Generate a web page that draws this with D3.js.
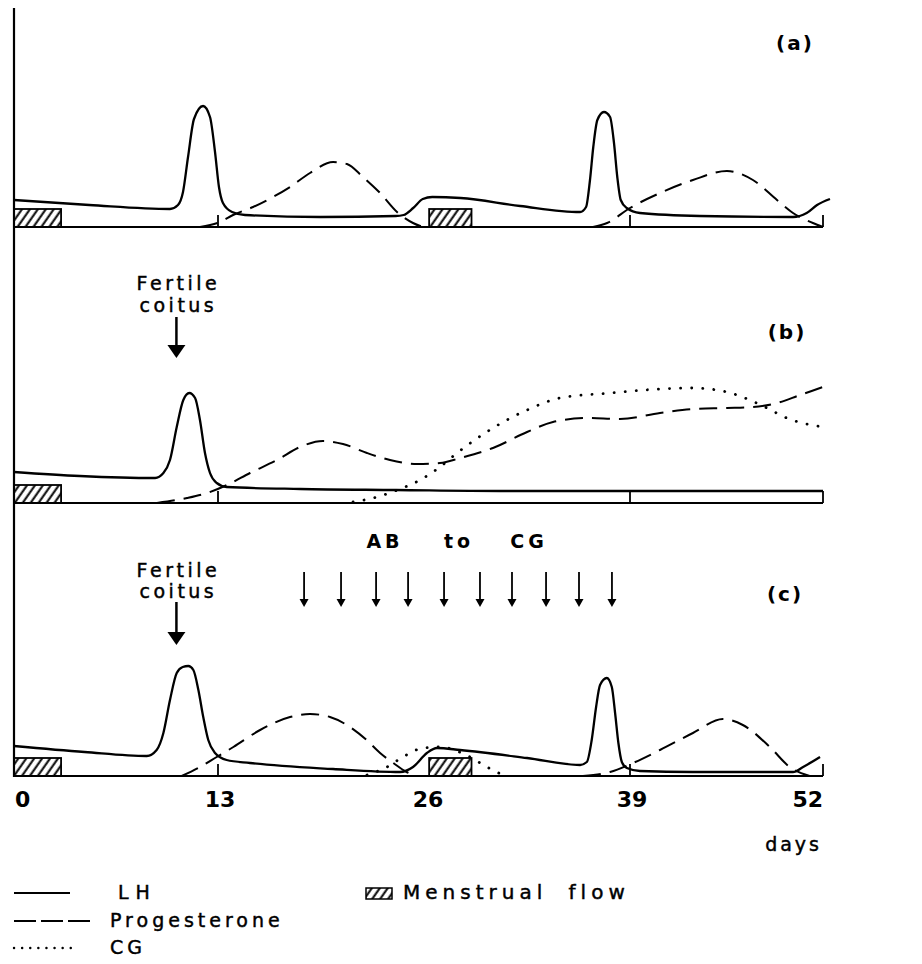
<!DOCTYPE html>
<html>
<head>
<meta charset="utf-8">
<script src="https://cdn.jsdelivr.net/npm/d3@7"></script>
<style>
  body { margin: 0; background: #fff; }
  text { font-family: "DejaVu Sans", sans-serif; fill: #000; }
  text.thick { stroke: #000; stroke-width: 0.45px; }
</style>
</head>
<body>
<div id="container"></div>
<script>
/* CONSTANTS AND GLOBALS */
const width = 922,
  height = 964,
  axisLeft = 14,
  axisTop = 8;

// baseline (y pixel) of each of the three panels
const baselines = [227, 503, 776];

/* DATA (day, hormone level in arbitrary units) */
const dayTicks = [0, 13, 26, 39, 52];
const minorTicks = [13, 39, 52];
const panelNames = ["(a)", "(b)", "(c)"];

// panel (a): normal cycle
const lhA = [[0, 27], [4.8, 22], [9.94, 18], [10.45, 22], [10.77, 35], [11.09, 70], [11.47, 108], [12.05, 121],
  [12.49, 110], [12.81, 75], [13.06, 40], [13.31, 24], [13.88, 15], [14.69, 12], [19.4, 10], [24.1, 11],
  [24.6, 12], [25.2, 19], [25.8, 28], [26.4, 30], [28.2, 29], [32.0, 21], [35.82, 15], [36.2, 20],
  [36.45, 47], [36.66, 80], [36.92, 107], [37.34, 115], [37.73, 110], [37.98, 84], [38.19, 50], [38.41, 27],
  [38.79, 19], [39.67, 14], [43.71, 11], [49.98, 10], [50.9, 14], [51.6, 22], [52.47, 28]];
const progA1 = [[11.85, 0], [13.13, 5], [13.94, 12], [15.19, 20], [16.44, 30], [17.5, 40], [18.75, 54], [20.19, 65],
  [21.06, 63], [22.06, 50], [23.13, 34], [24.19, 15], [25.19, 4], [25.81, 0]];
const progA2 = [[36.64, 0], [37.54, 4], [39.0, 19], [41.02, 34], [43.24, 47], [45.53, 56], [47.28, 47], [48.9, 27],
  [49.98, 14], [51.32, 4], [52.0, 0]];
const menstA = [[0, 3], [26.2, 28.9]];

// panel (b): fertile coitus, pregnancy
const lhB = [[0, 31], [4.2, 27], [8.99, 25], [9.52, 30], [9.94, 43], [10.37, 76], [10.79, 103], [11.17, 110],
  [11.54, 105], [11.85, 83], [12.17, 50], [12.49, 30], [12.92, 20], [13.54, 16], [18.13, 14], [24.13, 13],
  [30.7, 12], [52, 12]];
const progB = [[9.11, 0], [11.03, 5], [12.3, 10], [13.56, 18], [15.0, 30], [16.69, 43], [18.13, 56], [19.56, 62],
  [20.81, 59], [22.31, 50], [23.75, 43], [25.44, 39], [26.89, 40], [28.17, 45], [30.27, 55], [32.44, 71],
  [34.09, 81], [36.26, 85], [38.36, 84], [41.02, 90], [43.24, 94], [45.53, 95], [47.28, 96], [48.9, 100],
  [50.45, 108], [52.0, 116]];
const cgB = [[21.44, 1], [22.94, 6], [24.38, 14], [25.63, 23], [26.89, 36], [27.98, 50], [30.27, 75], [32.44, 93],
  [34.54, 105], [37.73, 110], [41.02, 114], [43.24, 115], [45.53, 111], [47.07, 103], [48.22, 95],
  [49.56, 85], [52.0, 76]];
const menstB = [[0, 3]];

// panel (c): fertile coitus + antibody to CG
const lhC = [[0, 30], [4.5, 24], [8.46, 20], [9.09, 26], [9.52, 43], [9.94, 76], [10.37, 103], [10.75, 109],
  [11.11, 110], [11.43, 106], [11.75, 86], [12.06, 59], [12.38, 36], [12.81, 23], [13.54, 16], [15.0, 13],
  [20.19, 7], [24.38, 4], [25.19, 9], [26.06, 23], [26.7, 28], [28.17, 26], [32.44, 18], [35.82, 11],
  [36.25, 14], [36.56, 36], [36.84, 69], [37.09, 91], [37.52, 98], [37.84, 89], [38.05, 63], [38.26, 33],
  [38.48, 14], [38.8, 8], [39.67, 5], [43.24, 4], [49.98, 4], [50.66, 9], [51.8, 19]];
const progC1 = [[10.69, 0], [11.85, 9], [12.92, 19], [13.96, 29], [15.63, 46], [17.5, 59], [18.75, 62], [20.0, 59],
  [21.25, 49], [22.29, 36], [23.13, 23], [23.96, 13], [24.79, 4], [25.42, 0]];
const progC2 = [[36.0, 0], [37.73, 4], [39.2, 13], [41.02, 26], [43.24, 43], [45.26, 57], [46.6, 51], [48.42, 29],
  [49.76, 9], [51.1, 0]];
const cgC = [[22.31, 1], [23.56, 9], [24.56, 19], [25.81, 28], [26.89, 29], [28.8, 19], [29.88, 9], [31.03, 0]];
const menstC = [[0, 3], [26.2, 28.9]];

const coitusDay = 10.35;
const abDays = [18.38, 20.69, 22.88, 24.88, 27.15, 29.44, 31.48, 33.65, 35.75, 37.85];

let svg;
let xScale;

/* INIT */
function init() {
  // the hand-drawn axis is not quite even, so a piecewise scale through the labelled days
  xScale = d3.scaleLinear()
    .domain(dayTicks)
    .range([14, 218, 426, 630, 823]);

  svg = d3.select("#container")
    .append("svg")
    .attr("width", width)
    .attr("height", height)
    .style("background-color", "#fff");

  // hatch for menstrual flow
  svg.append("defs").append("pattern")
    .attr("id", "hatch")
    .attr("patternUnits", "userSpaceOnUse")
    .attr("width", 6.5)
    .attr("height", 6.5)
    .attr("patternTransform", "rotate(35)")
    .append("line")
    .attr("x1", 1.5).attr("y1", 0)
    .attr("x2", 1.5).attr("y2", 6.5)
    .attr("stroke", "#000")
    .attr("stroke-width", 2);

  // left vertical axis
  svg.append("line")
    .attr("x1", axisLeft).attr("x2", axisLeft)
    .attr("y1", axisTop).attr("y2", baselines[2] + 1)
    .attr("stroke", "#000")
    .attr("stroke-width", 2.2);

  const panels = [
    { lh: lhA, prog: [progA1, progA2], cg: [], menst: menstA, label: { x: 795, y: 50 } },
    { lh: lhB, prog: [progB], cg: [cgB], menst: menstB, label: { x: 787, y: 339 } },
    { lh: lhC, prog: [progC1, progC2], cg: [cgC], menst: menstC, label: { x: 785, y: 601 } }
  ];

  panels.forEach((p, i) => drawPanel(p, i));

  drawAnnotations();
  drawDayAxis();
  drawLegend();
}

function drawPanel(p, i) {
  const base = baselines[i];
  const yScale = d3.scaleLinear().domain([0, 130]).range([base, base - 130]);
  const g = svg.append("g").attr("class", "panel-" + i);

  const line = d3.line()
    .x(d => xScale(d[0]))
    .y(d => yScale(d[1]))
    .curve(d3.curveMonotoneX);

  // menstrual flow boxes
  g.selectAll("rect.menst")
    .data(p.menst)
    .join("rect")
    .attr("class", "menst")
    .attr("x", d => xScale(d[0]))
    .attr("y", base - 18)
    .attr("width", d => xScale(d[1]) - xScale(d[0]))
    .attr("height", 18)
    .attr("fill", "url(#hatch)")
    .attr("stroke", "#000")
    .attr("stroke-width", 1.8);

  // baseline
  g.append("line")
    .attr("x1", xScale(0)).attr("x2", xScale(52))
    .attr("y1", base).attr("y2", base)
    .attr("stroke", "#000")
    .attr("stroke-width", 2.2);

  // small day ticks
  g.selectAll("line.tick")
    .data(minorTicks)
    .join("line")
    .attr("class", "tick")
    .attr("x1", d => xScale(d)).attr("x2", d => xScale(d))
    .attr("y1", base).attr("y2", base - 12)
    .attr("stroke", "#000")
    .attr("stroke-width", 1.8);

  g.selectAll("path.prog")
    .data(p.prog)
    .join("path")
    .attr("class", "prog")
    .attr("d", line)
    .attr("fill", "none")
    .attr("stroke", "#000")
    .attr("stroke-width", 2)
    .attr("stroke-dasharray", "18,9");

  g.selectAll("path.cg")
    .data(p.cg)
    .join("path")
    .attr("class", "cg")
    .attr("d", line)
    .attr("fill", "none")
    .attr("stroke", "#000")
    .attr("stroke-width", 2.8)
    .attr("stroke-linecap", "round")
    .attr("stroke-dasharray", "0.1,11");

  g.append("path")
    .datum(p.lh)
    .attr("d", line)
    .attr("fill", "none")
    .attr("stroke", "#000")
    .attr("stroke-width", 2.3);

  g.append("text")
    .attr("x", p.label.x)
    .attr("y", p.label.y)
    .attr("text-anchor", "middle")
    .style("font-weight", "bold")
    .style("font-size", "20px")
    .style("letter-spacing", "2px")
    .text(panelNames[i]);
}

function bigArrow(x, yTop, yTip) {
  svg.append("line")
    .attr("x1", x).attr("x2", x)
    .attr("y1", yTop).attr("y2", yTip - 10)
    .attr("stroke", "#000")
    .attr("stroke-width", 2.5);
  svg.append("path")
    .attr("d", `M${x - 9},${yTip - 13} L${x + 9},${yTip - 13} L${x},${yTip} Z`)
    .attr("fill", "#000");
}

function coitusText(x, y1, y2) {
  const t = svg.append("text")
    .attr("class", "thick")
    .attr("text-anchor", "middle")
    .style("font-size", "19px")
    .style("letter-spacing", "3.5px");
  t.append("tspan").attr("x", x).attr("y", y1).text("Fertile");
  t.append("tspan").attr("x", x).attr("y", y2).text("coitus");
}

function drawAnnotations() {
  const cx = xScale(coitusDay);

  // panel (b)
  coitusText(cx + 2, 290, 312);
  bigArrow(cx, 317, 358);

  // panel (c)
  coitusText(cx + 2, 577, 598);
  bigArrow(cx, 602, 645);

  // antibody to CG injections
  const ab = svg.append("g").attr("class", "ab");
  ab.selectAll("line")
    .data(abDays)
    .join("line")
    .attr("x1", d => xScale(d)).attr("x2", d => xScale(d))
    .attr("y1", 572).attr("y2", 602)
    .attr("stroke", "#000")
    .attr("stroke-width", 1.8);
  ab.selectAll("path")
    .data(abDays)
    .join("path")
    .attr("d", d => {
      const x = xScale(d);
      return `M${x - 4.5},${599} L${x + 4.5},${599} L${x},${607} Z`;
    })
    .attr("fill", "#000");

  const abText = [["AB", 385], ["to", 459], ["CG", 529]];
  svg.selectAll("text.abt")
    .data(abText)
    .join("text")
    .attr("class", "abt")
    .attr("x", d => d[1])
    .attr("y", 548)
    .attr("text-anchor", "middle")
    .style("font-weight", "bold")
    .style("font-size", "19px")
    .style("letter-spacing", "4px")
    .text(d => d[0]);
}

function drawDayAxis() {
  svg.selectAll("text.daylabel")
    .data(dayTicks)
    .join("text")
    .attr("class", "daylabel")
    .attr("x", (d, i) => i === 0 ? xScale(d) + 1 : i === dayTicks.length - 1 ? xScale(d) : xScale(d) + 2)
    .attr("y", 807)
    .attr("text-anchor", (d, i) => i === 0 ? "start" : i === dayTicks.length - 1 ? "end" : "middle")
    .style("font-weight", "bold")
    .style("font-size", "22px")
    .text(d => d);

  svg.append("text")
    .attr("class", "thick")
    .attr("x", 822)
    .attr("y", 851)
    .attr("text-anchor", "end")
    .style("font-size", "19px")
    .style("letter-spacing", "3px")
    .text("days");
}

function drawLegend() {
  const items = [
    { label: "LH", y: 893, dash: null, width: 2.2, x2: 70, tx: 118, ls: "7px" },
    { label: "Progesterone", y: 921, dash: "22,5", width: 2.2, x2: 90, tx: 110, ls: "4px" },
    { label: "CG", y: 948, dash: "0.1,8", width: 2.4, x2: 74, tx: 110, ls: "4px" }
  ];

  const lg = svg.append("g").attr("class", "legend");
  lg.selectAll("line")
    .data(items)
    .join("line")
    .attr("x1", 14).attr("x2", d => d.x2)
    .attr("y1", d => d.y).attr("y2", d => d.y)
    .attr("stroke", "#000")
    .attr("stroke-width", d => d.width)
    .attr("stroke-linecap", d => d.dash && d.dash.startsWith("0.1") ? "round" : "butt")
    .attr("stroke-dasharray", d => d.dash);

  lg.selectAll("text")
    .data(items)
    .join("text")
    .attr("class", "thick")
    .attr("x", d => d.tx)
    .attr("y", d => d.y + 6)
    .style("font-size", "19px")
    .style("letter-spacing", d => d.ls)
    .text(d => d.label);

  lg.append("rect")
    .attr("x", 366).attr("y", 888)
    .attr("width", 26).attr("height", 11)
    .attr("fill", "url(#hatch)")
    .attr("stroke", "#000")
    .attr("stroke-width", 1.5);

  lg.append("text")
    .attr("class", "thick")
    .attr("x", 403)
    .attr("y", 899)
    .style("font-size", "20px")
    .style("letter-spacing", "5px")
    .style("word-spacing", "10px")
    .text("Menstrual flow");
}

init();
</script>
</body>
</html>
